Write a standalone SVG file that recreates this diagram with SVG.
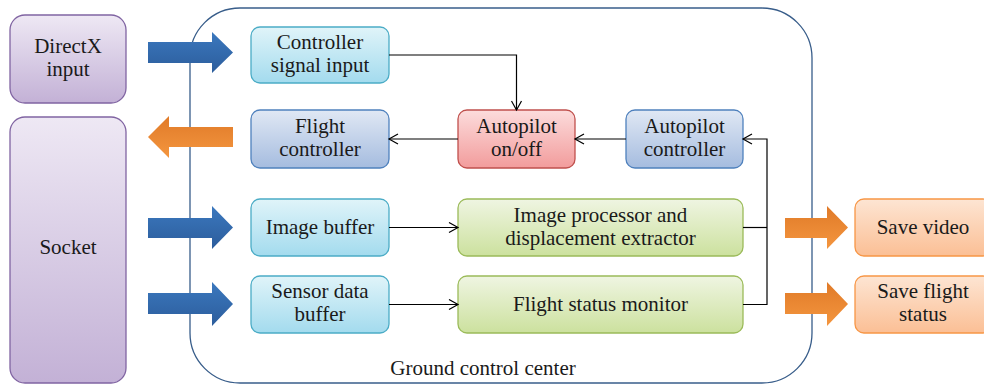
<svg xmlns="http://www.w3.org/2000/svg" width="984" height="385" viewBox="0 0 984 385">
<defs>
<linearGradient id="gPurple" x1="0" y1="0" x2="0" y2="1"><stop offset="0" stop-color="#eee8f4"/><stop offset="1" stop-color="#c3b1d6"/></linearGradient>
<linearGradient id="gCyan" x1="0" y1="0" x2="0" y2="1"><stop offset="0" stop-color="#e0f4f9"/><stop offset="1" stop-color="#a3dbee"/></linearGradient>
<linearGradient id="gBlue" x1="0" y1="0" x2="0" y2="1"><stop offset="0" stop-color="#e0e8f4"/><stop offset="1" stop-color="#a5bcdf"/></linearGradient>
<linearGradient id="gRed" x1="0" y1="0" x2="0" y2="1"><stop offset="0" stop-color="#fcdcdc"/><stop offset="1" stop-color="#f29c9c"/></linearGradient>
<linearGradient id="gGreen" x1="0" y1="0" x2="0" y2="1"><stop offset="0" stop-color="#eff5e2"/><stop offset="1" stop-color="#cce19e"/></linearGradient>
<linearGradient id="gOrange" x1="0" y1="0" x2="0" y2="1"><stop offset="0" stop-color="#fde5d3"/><stop offset="1" stop-color="#fbbf95"/></linearGradient>
<linearGradient id="gBArrow" x1="0" y1="0" x2="0" y2="1"><stop offset="0" stop-color="#3b78be"/><stop offset="1" stop-color="#2c5d9c"/></linearGradient>
<linearGradient id="gOArrow" x1="0" y1="0" x2="0" y2="1"><stop offset="0" stop-color="#e07a28"/><stop offset="1" stop-color="#f4963f"/></linearGradient>
<marker id="arr" markerWidth="12" markerHeight="12" refX="10" refY="6" orient="auto" markerUnits="userSpaceOnUse">
<path d="M1,1 L10,6 L1,11" fill="none" stroke="#000" stroke-width="1.2"/>
</marker>
</defs>
<style>
text{font-family:"Liberation Serif","Times New Roman",serif;font-size:21px;fill:#1a1a1a;text-anchor:middle}
.purple{fill:url(#gPurple);stroke:#8064a2;stroke-width:1.3}
.cyan{fill:url(#gCyan);stroke:#4bacc6;stroke-width:1.3}
.blue{fill:url(#gBlue);stroke:#4f81bd;stroke-width:1.3}
.red{fill:url(#gRed);stroke:#c0504d;stroke-width:1.3}
.green{fill:url(#gGreen);stroke:#9bbb59;stroke-width:1.3}
.orange{fill:url(#gOrange);stroke:#f79646;stroke-width:1.3}
.barrow{fill:url(#gBArrow)}
.oarrow{fill:url(#gOArrow)}
.conn{fill:none;stroke:#000;stroke-width:1.2}
</style>
<rect x="0" y="0" width="984" height="385" fill="#fff"/>

<g id="ground-control-center">
<rect x="190" y="8" width="622" height="375" rx="50" ry="50" fill="none" stroke="#385d8a" stroke-width="1.3"/>
<text x="483" y="375">Ground control center</text>
</g>

<g id="directx-input">
<rect class="purple" x="10" y="15" width="116" height="88" rx="15"/>
<text x="68" y="53">DirectX</text>
<text x="68" y="76">input</text>
</g>

<g id="socket">
<rect class="purple" x="10" y="117" width="116" height="266" rx="15"/>
<text x="68" y="254">Socket</text>
</g>

<g id="arrows">
<path class="barrow" d="M148,42 H212 V32 L233,52.5 L212,73 V63 H148 Z"/>
<path class="oarrow" d="M233,127 H169 V116 L148,137 L169,158 V147 H233 Z"/>
<path class="barrow" d="M148,218 H212 V206 L233,227.5 L212,249 V238 H148 Z"/>
<path class="barrow" d="M148,293 H212 V282 L233,304 L212,326 V314 H148 Z"/>
<path class="oarrow" d="M785,218 H827 V206 L848,227.5 L827,249 V238 H785 Z"/>
<path class="oarrow" d="M785,293 H827 V282 L848,304 L827,326 V314 H785 Z"/>
</g>

<g id="controller-signal-input">
<rect class="cyan" x="251" y="27" width="138" height="56" rx="9"/>
<text x="320" y="49">Controller</text>
<text x="320" y="72">signal input</text>
</g>

<g id="flight-controller">
<rect class="blue" x="251" y="110" width="138" height="58" rx="9"/>
<text x="320" y="133">Flight</text>
<text x="320" y="156">controller</text>
</g>

<g id="autopilot-onoff">
<rect class="red" x="458" y="110" width="117" height="58" rx="9"/>
<text x="516.5" y="133">Autopilot</text>
<text x="516.5" y="156">on/off</text>
</g>

<g id="autopilot-controller">
<rect class="blue" x="626" y="110" width="117" height="58" rx="9"/>
<text x="684.5" y="133">Autopilot</text>
<text x="684.5" y="156">controller</text>
</g>

<g id="image-buffer">
<rect class="cyan" x="251" y="199" width="138" height="57" rx="9"/>
<text x="320" y="234">Image buffer</text>
</g>

<g id="image-processor">
<rect class="green" x="458" y="199" width="285" height="57" rx="9"/>
<text x="600.5" y="222">Image processor and</text>
<text x="600.5" y="245">displacement extractor</text>
</g>

<g id="sensor-data-buffer">
<rect class="cyan" x="251" y="276" width="138" height="57" rx="9"/>
<text x="320" y="298">Sensor data</text>
<text x="320" y="321">buffer</text>
</g>

<g id="flight-status-monitor">
<rect class="green" x="458" y="276" width="285" height="57" rx="9"/>
<text x="600.5" y="311">Flight status monitor</text>
</g>

<g id="save-video">
<rect class="orange" x="855" y="199" width="137" height="57" rx="9"/>
<text x="923" y="234">Save video</text>
</g>

<g id="save-flight-status">
<rect class="orange" x="855" y="276" width="137" height="57" rx="9"/>
<text x="923" y="298">Save flight</text>
<text x="923" y="321">status</text>
</g>

<g id="connectors">
<path class="conn" d="M389,55 H516.5 V110" marker-end="url(#arr)"/>
<path class="conn" d="M626,139 H575" marker-end="url(#arr)"/>
<path class="conn" d="M458,139 H389" marker-end="url(#arr)"/>
<path class="conn" d="M389,227.5 H458" marker-end="url(#arr)"/>
<path class="conn" d="M389,304.5 H458" marker-end="url(#arr)"/>
<path class="conn" d="M743,227.5 H767"/>
<path class="conn" d="M743,304.5 H767 V139 H743" marker-end="url(#arr)"/>
</g>
</svg>
